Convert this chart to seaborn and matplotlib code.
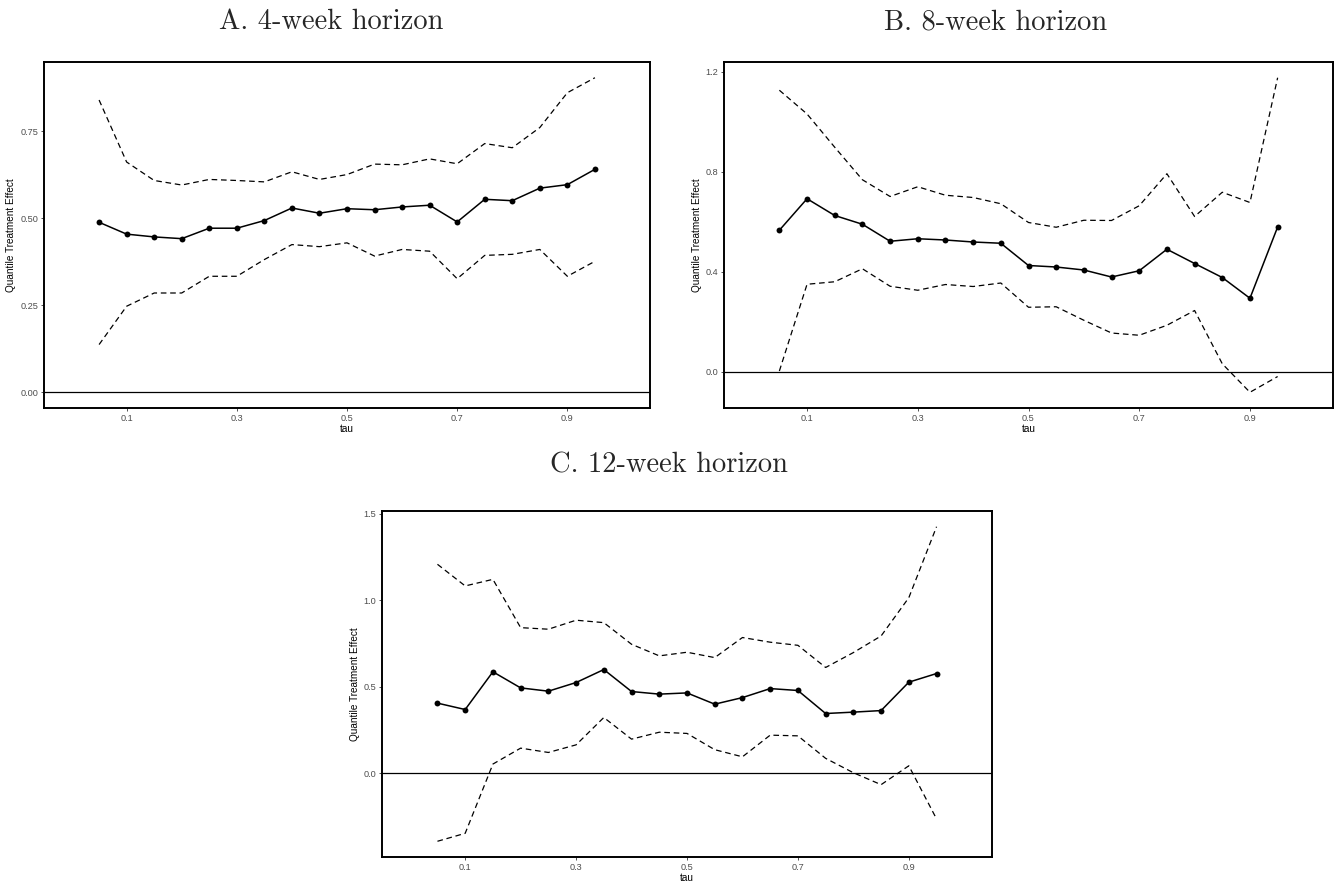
import numpy as np
import pandas as pd
import matplotlib
matplotlib.use("Agg")
import matplotlib.pyplot as plt
import seaborn as sns

tau = [0.05, 0.10, 0.15, 0.20, 0.25, 0.30, 0.35, 0.40, 0.45, 0.50,
       0.55, 0.60, 0.65, 0.70, 0.75, 0.80, 0.85, 0.90, 0.95]

# Panel A: 4-week horizon
a_est = [0.488, 0.454, 0.446, 0.441, 0.471, 0.471, 0.493, 0.529, 0.514, 0.527,
         0.524, 0.532, 0.537, 0.489, 0.554, 0.550, 0.586, 0.596, 0.640]
a_hi = [0.839, 0.661, 0.608, 0.595, 0.611, 0.608, 0.604, 0.633, 0.611, 0.625,
        0.655, 0.653, 0.670, 0.656, 0.714, 0.702, 0.760, 0.860, 0.903]
a_lo = [0.137, 0.247, 0.285, 0.285, 0.333, 0.333, 0.381, 0.424, 0.418, 0.429,
        0.391, 0.410, 0.405, 0.326, 0.393, 0.396, 0.410, 0.333, 0.376]

# Panel B: 8-week horizon
b_est = [0.566, 0.692, 0.625, 0.590, 0.522, 0.532, 0.527, 0.519, 0.514, 0.425,
         0.419, 0.407, 0.379, 0.404, 0.490, 0.433, 0.377, 0.294, 0.579]
b_hi = [1.126, 1.031, 0.898, 0.768, 0.701, 0.740, 0.706, 0.697, 0.672, 0.597,
        0.578, 0.606, 0.605, 0.664, 0.792, 0.621, 0.718, 0.677, 1.176]
b_lo = [0.003, 0.350, 0.360, 0.412, 0.342, 0.326, 0.349, 0.341, 0.355, 0.258,
        0.260, 0.206, 0.155, 0.146, 0.186, 0.245, 0.032, -0.082, -0.019]

# Panel C: 12-week horizon
c_est = [0.406, 0.369, 0.587, 0.494, 0.475, 0.525, 0.600, 0.473, 0.458, 0.465,
         0.400, 0.438, 0.490, 0.479, 0.346, 0.354, 0.363, 0.527, 0.577]
c_hi = [1.208, 1.083, 1.121, 0.842, 0.833, 0.885, 0.871, 0.746, 0.679, 0.700,
        0.669, 0.785, 0.758, 0.740, 0.612, 0.698, 0.794, 1.015, 1.425]
c_lo = [-0.392, -0.346, 0.054, 0.146, 0.121, 0.165, 0.323, 0.198, 0.238, 0.231,
        0.137, 0.096, 0.221, 0.217, 0.087, 0.004, -0.065, 0.044, -0.263]

titles = ["A. 4-week horizon", "B. 8-week horizon", "C. 12-week horizon"]
x_ticks = [0.1, 0.3, 0.5, 0.7, 0.9]
y_ticks = [[0.0, 0.25, 0.5, 0.75], [0.0, 0.4, 0.8, 1.2], [0.0, 0.5, 1.0, 1.5]]
y_fmt = ["{:.2f}", "{:.1f}", "{:.1f}"]

sns.set_style("white")
plt.rcParams['font.family'] = ['Liberation Sans', 'DejaVu Sans']

W, H = 1338, 883
fig = plt.figure(figsize=(W / 100, H / 100), dpi=100)

def rect(l, t, r, b):
    return [l / W, 1 - b / H, (r - l) / W, (b - t) / H]

rects = [rect(44, 62, 650, 408), rect(724, 62, 1333, 408), rect(382, 511, 992, 857)]
title_pos = [(331, 22), (996, 22), (669, 465)]
panels = [(a_est, a_lo, a_hi), (b_est, b_lo, b_hi), (c_est, c_lo, c_hi)]

for i, (est, lo, hi) in enumerate(panels):
    ax = fig.add_axes(rects[i])
    df = pd.DataFrame({"tau": tau, "est": est, "lo": lo, "hi": hi})
    ax.axhline(0, color="black", lw=0.9, zorder=1)
    sns.lineplot(data=df, x="tau", y="lo", ax=ax, color="black", lw=0.9,
                 linestyle=(0, (4.5, 3)))
    sns.lineplot(data=df, x="tau", y="hi", ax=ax, color="black", lw=0.9,
                 linestyle=(0, (4.5, 3)))
    sns.lineplot(data=df, x="tau", y="est", ax=ax, color="black", lw=1.1)
    sns.scatterplot(data=df, x="tau", y="est", ax=ax, color="black", s=18,
                    edgecolor="black", linewidth=0, zorder=5)
    ymin = min(min(lo), 0.0)
    ymax = max(max(hi), 0.0)
    pad = 0.05 * (ymax - ymin)
    ax.set_ylim(ymin - pad, ymax + pad)
    ax.set_xlim(-0.05, 1.05)
    ax.set_xticks(x_ticks)
    ax.set_xticklabels([f"{v:.1f}" for v in x_ticks])
    ax.set_yticks(y_ticks[i])
    ax.set_yticklabels([y_fmt[i].format(v) for v in y_ticks[i]])
    ax.tick_params(axis="both", which="major", length=2.5, width=0.6,
                   color="#333333", labelcolor="#4D4D4D", labelsize=6.6,
                   pad=1.5, bottom=True, left=True)
    ax.set_xlabel("tau", fontsize=7.2, color="black", labelpad=1)
    ax.set_ylabel("Quantile Treatment Effect", fontsize=7.2, color="black", labelpad=3)
    for sp in ax.spines.values():
        sp.set_visible(True)
        sp.set_color("black")
        sp.set_linewidth(1.4)
    fig.text(title_pos[i][0] / W, 1 - title_pos[i][1] / H, titles[i],
             ha="center", va="center", fontsize=20.5, family="cmr10")

fig.savefig("out.png", dpi=100)
